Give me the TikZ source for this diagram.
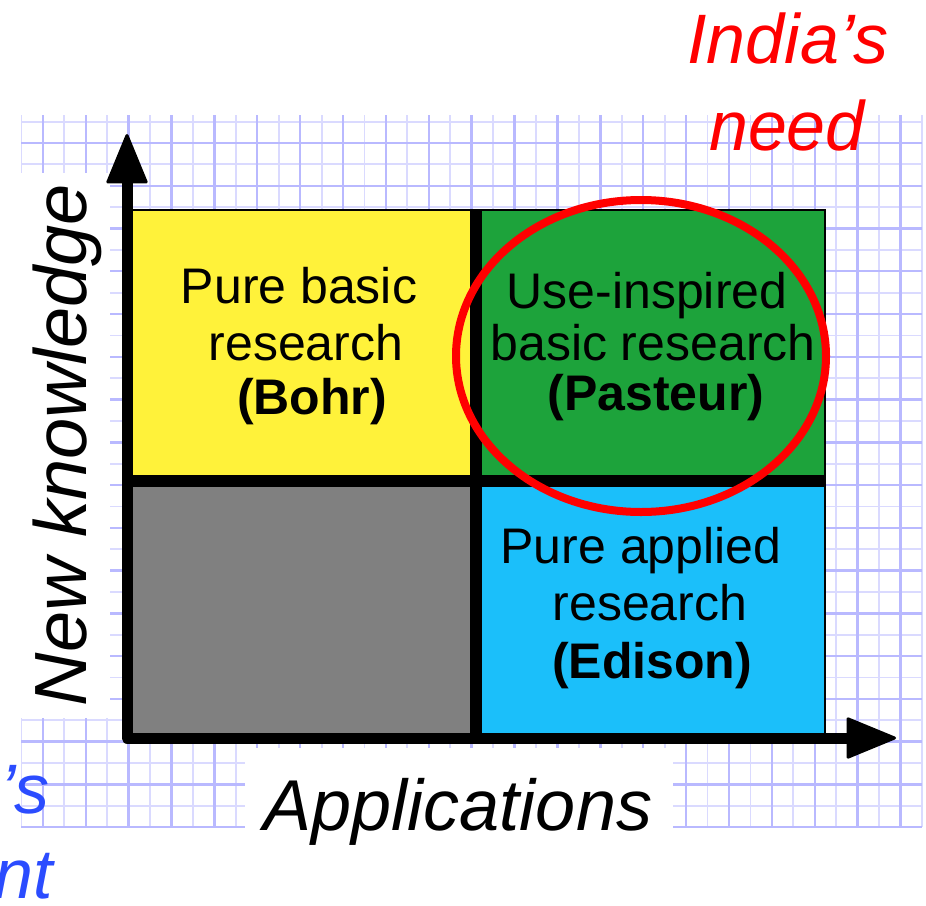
\documentclass[tikz,border=0pt]{standalone}
\usepackage{fontspec}
\setmainfont{Liberation Sans}
\usetikzlibrary{arrows.meta}
\definecolor{qyellow}{RGB}{255,242,58}
\definecolor{qgreen}{RGB}{29,163,59}
\definecolor{qgray}{RGB}{128,128,128}
\definecolor{qblue}{RGB}{27,191,250}
\definecolor{gridmin}{RGB}{218,218,255}
\definecolor{gridmaj}{RGB}{185,185,255}
\definecolor{needred}{RGB}{255,0,0}
\definecolor{presblue}{RGB}{43,76,255}
\tikzset{
  gmin/.style={draw=gridmin, line width=1.8pt},
  gmaj/.style={draw=gridmaj, line width=2.4pt},
  qbox/.style={draw=black, line width=1.5pt},
  bar/.style={draw=black, line width=12pt},
  axis/.style={draw=black, line width=11pt, line join=round,
    {Triangle[length=52pt,width=42pt,line width=3pt,round]}-{Triangle[length=52pt,width=42pt,line width=3pt,round]}},
  qtext/.style={font=\fontsize{50}{57}\selectfont, anchor=base, inner sep=0pt},
  qbold/.style={qtext, font=\fontsize{50}{57}\selectfont\bfseries},
  axlabel/.style={font=\fontsize{72}{80}\selectfont\itshape, anchor=base, inner sep=0pt},
  note/.style={font=\fontsize{70}{80}\selectfont\itshape, anchor=base, inner sep=0pt},
}
\begin{document}
\begin{tikzpicture}[x=1pt,y=-1pt]
\useasboundingbox (0,0) rectangle (926,905);
% grid paper
\foreach \k in {1,3,...,43} \draw[gmin] ({21.44*\k},115) -- ({21.44*\k},827);
\foreach \n in {0,2,...,32} \draw[gmin] (21,{121.6+21.38*\n}) -- (922,{121.6+21.38*\n});
\foreach \k in {2,4,...,42} \draw[gmaj] ({21.44*\k},115) -- ({21.44*\k},827);
\foreach \n in {1,3,...,33} \draw[gmaj] (21,{121.6+21.38*\n}) -- (922,{121.6+21.38*\n});
% white label backgrounds
\fill[white] (21,173) rectangle (110,718);
\fill[white] (245,748) rectangle (673,830);
% quadrants
\draw[qbox, fill=qyellow] (130,210) rectangle (476,481);
\draw[qbox, fill=qgreen] (476,210) rectangle (825,481);
\draw[qbox, fill=qgray] (130,481) rectangle (476,738);
\draw[qbox, fill=qblue] (476,481) rectangle (825,738);
% dividing bars
\coordinate (vtop) at (476,210);
\coordinate (vbot) at (476,738);
\coordinate (hleft) at (127,481);
\coordinate (hright) at (826,481);
\draw[bar] (vtop) -- (vbot);
\draw[bar] (hleft) -- (hright);
% axes
\coordinate (O) at (127,738);
\coordinate (ytip) at (127,134);
\coordinate (xtip) at (896,738);
\draw[axis] (ytip) -- (O) -- (xtip);
% highlight ellipse
\draw[needred, line width=8pt] (641,356) ellipse [x radius=185, y radius=156];
% quadrant texts
\node[qtext] (y1) at (299,303) {Pure basic};
\node[qtext] (y2) at (306,360) {research};
\node[qbold] (y3) at (312,414) {(Bohr)};
\node[qtext] (g1) at (647,308) {Use-inspired};
\node[qtext] (g2) at (653,360) {basic research};
\node[qbold] (g3) at (656,410) {(Pasteur)};
\node[qtext] (b1) at (641,563) {Pure applied};
\node[qtext] (b2) at (650,620) {research};
\node[qbold] (b3) at (652,678) {(Edison)};
% axis labels
\node[axlabel, font=\fontsize{74}{80}\selectfont\itshape, rotate=90] (ylabel) at (86,445) {New knowledge};
\node[axlabel] (xlabel) at (458,830) {Applications};
% notes
\node[note, text=needred] (need1) at (788,63) {India’s};
\node[note, text=needred] (need2) at (787,150) {need};
\begin{scope}
\clip (0,0) rectangle (926,905);
\node[note, text=presblue, anchor=base east] (pres1) at (50,813) {India’s};
\node[note, text=presblue, anchor=base east] (pres2) at (53,898) {present};
\end{scope}
\end{tikzpicture}
\end{document}
